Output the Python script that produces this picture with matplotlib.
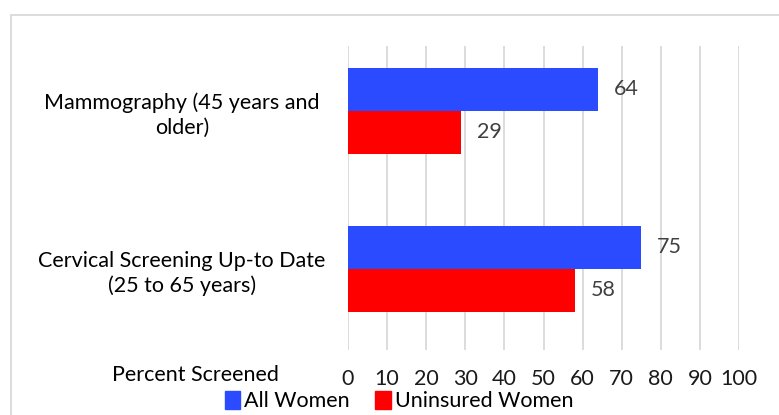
import matplotlib
matplotlib.use('Agg')
import matplotlib.pyplot as plt
from matplotlib.patches import Rectangle

categories = ['Cervical Screening Up-to Date\n(25 to 65 years)', 'Mammography (45 years and\nolder)']
all_women = [75, 64]
uninsured = [58, 29]
ticks = list(range(0, 101, 10))

blue = '#2a4bff'
red = '#ff0000'
plt.rcParams['font.family'] = ['Lato', 'DejaVu Sans']
fs = 15.5

fig = plt.figure(figsize=(7.79, 4.15), dpi=100)
W, H = 779, 415
# plot area in pixels: x 348..739, y 46..350
ax = fig.add_axes([348 / W, 1 - 350 / H, (739 - 348) / W, (350 - 46) / H])

h = 0.272
y = [0, 1]
ax.barh([v + h / 2 for v in y], all_women, height=h, color=blue, zorder=3)
ax.barh([v - h / 2 for v in y], uninsured, height=h, color=red, zorder=3)

for i in range(2):
    ax.text(all_women[i] + 4, y[i] + h / 2, str(all_women[i]), va='center', ha='left',
            fontsize=fs, color='#404040')
    ax.text(uninsured[i] + 4, y[i] - h / 2, str(uninsured[i]), va='center', ha='left',
            fontsize=fs, color='#404040')

ax.set_xlim(0, 100)
ax.set_ylim(-0.513, 1.411)
ax.set_xticks(ticks)
ax.set_xticklabels([str(t) for t in ticks], fontsize=fs, color='#1a1a1a')
ax.set_yticks(y)
ax.set_yticklabels(categories, fontsize=fs, ha='center', multialignment='center', linespacing=1.3)
ax.tick_params(axis='y', length=0, pad=119.5)
ax.tick_params(axis='x', length=0, pad=14)
ax.grid(axis='x', color='#d9d9d9', linewidth=1.3, zorder=0)
for s in ax.spines.values():
    s.set_visible(False)

fig.text(195 / W, 1 - 375 / H, 'Percent Screened', ha='center', va='center', fontsize=fs)

# outer chart border
fig.patches.append(Rectangle((11 / W, -0.05), 1.2, 1 - 15 / H + 0.05, transform=fig.transFigure,
                             fill=False, edgecolor='#d9d9d9', linewidth=1.3))

handles = [Rectangle((0, 0), 1, 1, color=blue), Rectangle((0, 0), 1, 1, color=red)]
fig.legend(handles, ['All Women', 'Uninsured Women'], loc='center', bbox_to_anchor=(399 / W, 1 - 401 / H),
           ncol=2, frameon=False, fontsize=fs, handlelength=0.7, handleheight=0.9,
           handletextpad=0.2, columnspacing=1.2, borderaxespad=0)

fig.savefig('out.png', dpi=100)
